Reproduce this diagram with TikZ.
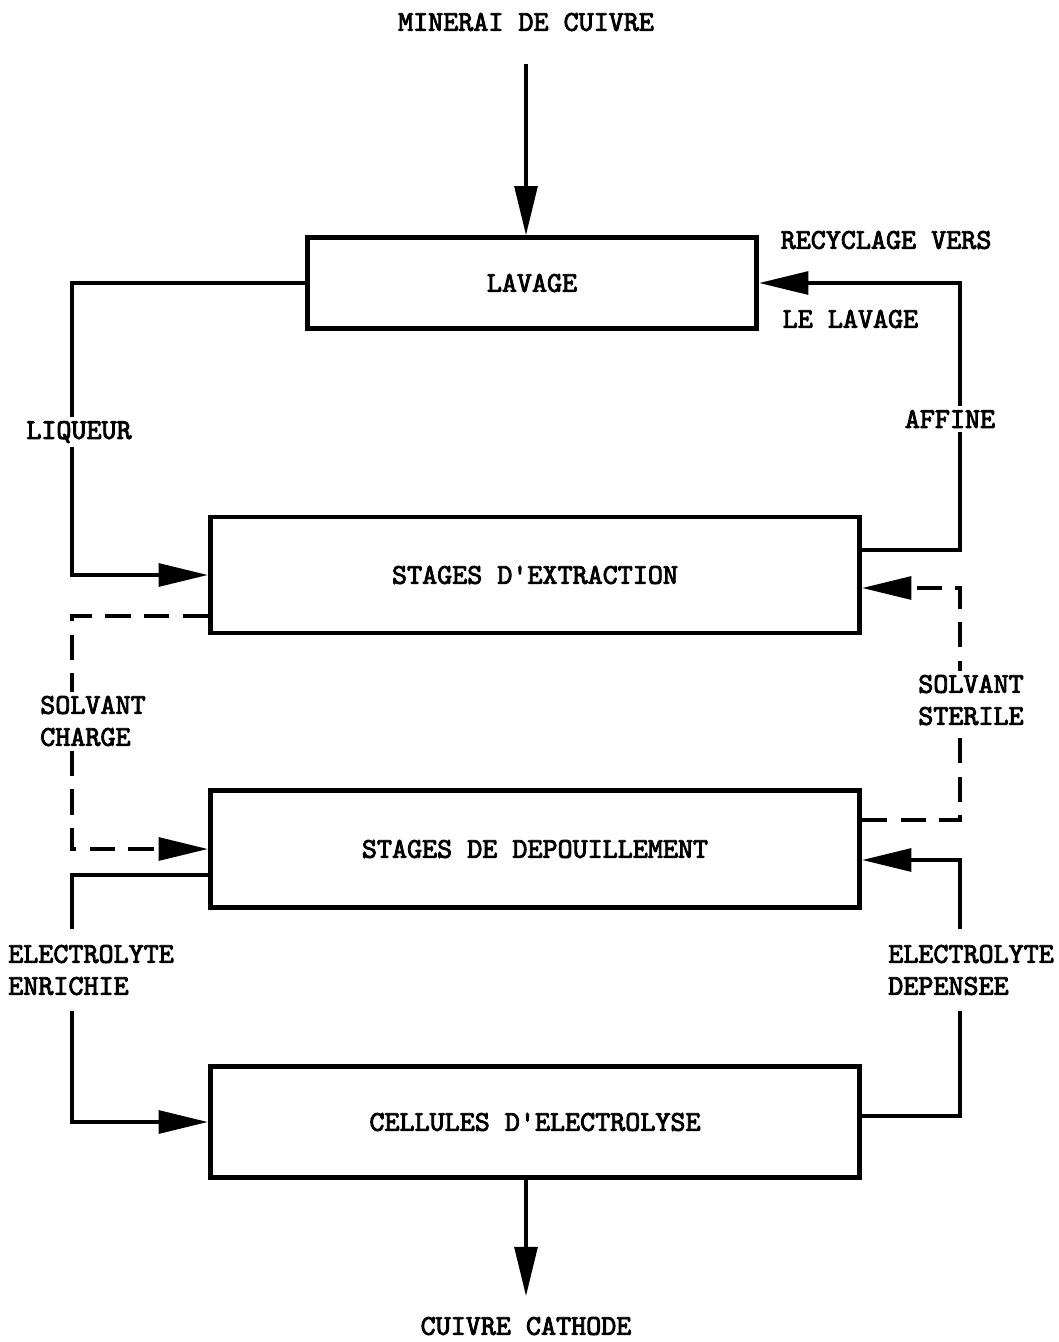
\documentclass[tikz,border=0pt]{standalone}
\usepackage{fontspec}
\newfontfamily\typew{lmmono10-regular.otf}[FakeBold=3]
\usepackage{tikz}
\usetikzlibrary{arrows.meta,positioning,calc}

\begin{document}
\begin{tikzpicture}[x=0.75pt,y=-0.75pt,
    font=\typew\fontsize{21.5}{24}\selectfont,
    stagebox/.style={draw, line width=3.5pt, minimum width=487pt, minimum height=87pt},
    flow/.style={line width=3pt, -{Triangle[length=37pt,width=17pt]}},
    dashflow/.style={flow, dash pattern=on 19pt off 10pt},
    tag/.style={fill=white, inner sep=3pt, align=left}]
\useasboundingbox (0,0) rectangle (1059,1342);

% process blocks
\node[stagebox, minimum width=337pt, minimum height=68pt] (lav) at (532,283) {LAVAGE};
\node[stagebox] (ext) at (535,575) {STAGES D'EXTRACTION};
\node[stagebox, minimum height=88pt] (dep) at (535,849) {STAGES DE DEPOUILLEMENT};
\node[stagebox, minimum height=83pt] (ele) at (535,1122) {CELLULES D'ELECTROLYSE};

% in and out
\node (ore) at (526,22) {MINERAI DE CUIVRE};
\node (cath) at (526,1326) {CUIVRE CATHODE};
\draw[flow] ($(ore.south)+(0,28)$) -- (ore.south |- lav.north);
\draw[flow] (cath |- ele.south) -- ($(cath.north)+(0,-16)$);

% loop columns
\coordinate (lx) at (72,0);
\coordinate (rx) at (960,0);

% liqueur and affine
\draw[flow] (lav.west) -| (lx |- ext.west) -- (ext.west);
\draw[flow] ($(ext.east)+(0,-25)$) -| (rx |- lav.east) -- (lav.east);
\node[tag] (liq) at (79,432) {LIQUEUR};
\node[tag] (aff) at (950,419) {AFFINE};
\node[anchor=west] (rec1) at (776,240) {RECYCLAGE VERS};
\node[anchor=west] (rec2) at (778,319) {LE LAVAGE};

% solvant
\draw[dashflow] ($(ext.west)+(0,41)$) -| (lx |- dep.west) -- (dep.west);
\draw[dashflow] ($(dep.east)+(0,-29)$) -| ($(rx |- ext.east)+(0,13)$) -- ($(ext.east)+(0,13)$);
\node[tag, anchor=west] (sch) at (36,721) {SOLVANT\\CHARGE};
\node[tag, anchor=west] (sst) at (914,700) {SOLVANT\\STERILE};

% electrolyte
\draw[flow] ($(dep.west)+(0,26)$) -| (lx |- ele.west) -- (ele.west);
\draw[flow] ($(ele.east)+(0,-6)$) -| ($(rx |- dep.east)+(0,11)$) -- ($(dep.east)+(0,11)$);
\node[tag, anchor=west, inner ysep=12pt] (enr) at (4,970) {ELECTROLYTE\\ENRICHIE};
\node[tag, anchor=west, inner ysep=12pt] (dpn) at (884,970) {ELECTROLYTE\\DEPENSEE};
\end{tikzpicture}
\end{document}
